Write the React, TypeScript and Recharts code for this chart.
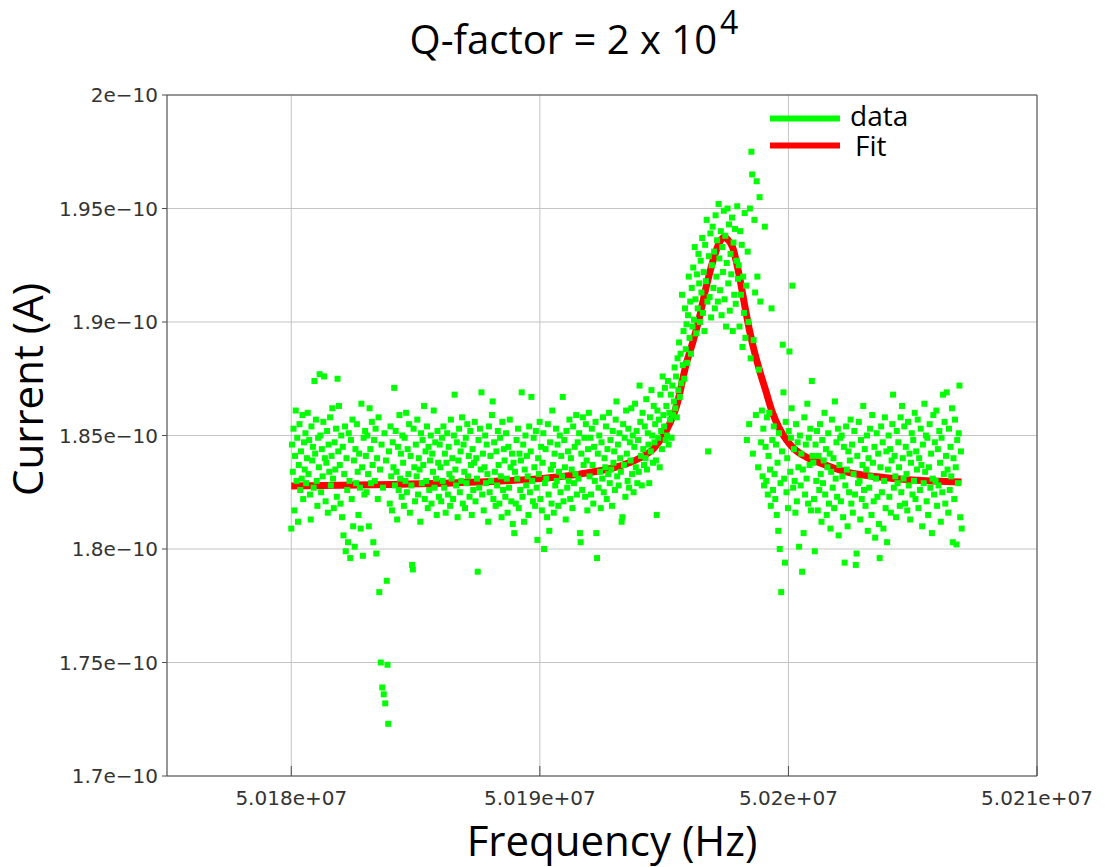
import React from 'react';
import {
  ComposedChart,
  Scatter,
  Line,
  XAxis,
  YAxis,
  CartesianGrid,
  ReferenceLine,
} from 'recharts';

// Frequency sweep: one current reading every SWEEP_STEP_HZ starting at SWEEP_START_HZ
const SWEEP_START_HZ = 50180000;
const SWEEP_STEP_HZ = 30;

// Measured current in pA (1 pA = 1e-12 A), 100 sweep points per block
const sweepBlock1 = [
  180.9, 184.6, 183.4, 185.3, 181.7, 184.1, 186.1, 183.0, 184.9, 181.2,
  183.7, 185.5, 182.6, 184.3, 183.1, 185.9, 182.2, 184.7, 183.5, 185.1,
  182.9, 184.0, 186.0, 183.3, 184.8, 182.4, 181.3, 185.4, 183.9, 184.5,
  182.7, 187.4, 184.2, 185.7, 183.0, 181.9, 184.9, 183.6, 187.7, 185.0,
  182.5, 184.4, 183.2, 185.6, 187.6, 184.0, 182.1, 183.8, 185.2, 181.6,
  184.6, 183.4, 185.8, 182.8, 184.1, 186.2, 183.1, 181.8, 184.7, 183.5,
  185.3, 182.3, 187.5, 184.3, 186.3, 183.7, 182.0, 185.0, 181.4, 184.5,
  180.6, 183.3, 185.4, 179.9, 184.0, 182.6, 180.3, 185.1, 183.0, 179.6,
  184.8, 182.2, 185.7, 181.0, 183.9, 180.1, 184.4, 182.9, 185.5, 183.4,
  181.5, 184.2, 182.7, 180.9, 186.4, 183.6, 179.7, 184.9, 182.4, 185.2,
];
const sweepBlock2 = [
  184.1, 182.5, 185.0, 183.3, 181.0, 186.2, 184.4, 182.9, 185.6, 183.7,
  180.3, 184.8, 183.0, 185.3, 179.8, 184.0, 182.2, 185.8, 178.1, 183.5,
  175.0, 184.6, 173.9, 182.7, 173.6, 185.1, 173.2, 183.9, 178.6, 174.9,
  172.3, 184.3, 182.0, 185.4, 183.2, 181.7, 184.7, 183.6, 187.1, 182.8,
  185.2, 183.4, 181.3, 184.5, 182.6, 185.9, 183.1, 184.2, 182.3, 185.0,
  183.8, 181.9, 184.9, 183.0, 186.0, 182.5, 184.4, 183.3, 185.5, 181.6,
  184.1, 182.8, 179.3, 179.1, 185.3, 183.6, 182.1, 184.6, 183.2, 185.7,
  182.4, 184.0, 183.5, 181.2, 185.1, 182.9, 184.8, 183.7, 186.3, 182.2,
  184.3, 183.0, 185.4, 181.8, 184.5, 182.6, 183.9, 185.0, 182.0, 184.2,
  183.4, 186.1, 182.7, 184.7, 183.1, 181.5, 185.2, 183.8, 182.3, 184.6,
];
const sweepBlock3 = [
  183.6, 182.1, 184.9, 183.0, 185.4, 182.7, 184.2, 181.6, 183.8, 185.1,
  182.4, 184.5, 183.3, 181.9, 185.7, 183.1, 184.0, 182.2, 185.0, 186.8,
  183.5, 182.8, 184.7, 181.4, 183.9, 185.3, 182.5, 184.3, 183.0, 185.8,
  182.0, 184.6, 183.4, 181.8, 184.9, 182.9, 185.5, 183.2, 184.1, 182.3,
  185.2, 183.7, 181.5, 184.4, 182.6, 183.8, 185.6, 182.1, 184.0, 183.1,
  179.0, 184.8, 182.7, 185.3, 183.5, 186.9, 182.4, 184.2, 181.7, 183.6,
  185.0, 182.9, 184.6, 183.3, 181.2, 185.4, 182.5, 184.1, 183.0, 185.9,
  186.5, 182.2, 184.7, 183.4, 181.9, 184.3, 182.8, 185.2, 183.7, 182.0,
  184.9, 183.2, 181.4, 185.6, 182.6, 184.4, 183.9, 182.3, 185.1, 183.1,
  181.6, 184.5, 182.7, 185.7, 183.6, 182.1, 184.2, 181.1, 183.8, 180.7,
];
const sweepBlock4 = [
  183.4, 182.0, 184.8, 183.1, 185.3, 181.8, 184.2, 182.6, 183.9, 186.9,
  182.3, 184.6, 181.2, 183.5, 185.0, 182.8, 184.1, 183.2, 181.5, 185.4,
  182.5, 184.3, 186.7, 183.0, 182.1, 184.9, 183.6, 181.9, 185.2, 182.7,
  180.4, 184.0, 183.3, 185.6, 182.2, 184.5, 181.7, 183.8, 185.1, 180.0,
  182.9, 184.4, 183.1, 181.4, 185.5, 182.4, 180.8, 184.7, 183.5, 182.0,
  186.1, 183.7, 181.6, 184.2, 182.8, 185.3, 183.0, 184.6, 181.9, 183.4,
  185.0, 182.5, 184.1, 183.2, 186.7, 182.1, 184.8, 183.6, 181.3, 185.2,
  182.7, 184.3, 183.0, 185.7, 182.2, 184.0, 183.5, 181.8, 185.4, 182.9,
  184.5, 183.3, 185.9, 182.4, 184.7, 183.1, 185.1, 180.7, 180.3, 184.2,
  182.6, 185.8, 183.7, 184.9, 182.3, 185.5, 183.9, 181.7, 184.4, 186.0,
];
const sweepBlock5 = [
  183.2, 184.9, 182.4, 185.3, 183.7, 182.0, 184.5, 183.0, 185.6, 180.7,
  179.6, 184.2, 182.7, 185.0, 183.4, 181.8, 184.7, 183.1, 185.8, 182.5,
  184.0, 183.6, 185.4, 182.2, 184.4, 183.3, 186.0, 182.9, 184.8, 183.5,
  181.9, 185.2, 183.8, 184.3, 182.6, 185.7, 186.5, 183.2, 184.6, 182.8,
  185.1, 184.0, 183.4, 181.2, 181.4, 185.5, 183.7, 184.9, 182.3, 186.1,
  184.2, 183.0, 185.3, 182.7, 184.7, 183.9, 186.2, 183.3, 185.0, 182.5,
  184.5, 186.4, 183.6, 185.2, 182.9, 184.8, 183.4, 187.2, 185.6, 184.1,
  182.8, 186.0, 184.4, 183.7, 185.4, 184.0, 186.6, 183.5, 185.1, 184.6,
  182.9, 185.8, 184.3, 187.0, 185.0, 183.8, 186.3, 184.7, 185.5, 183.9,
  181.5, 186.1, 184.9, 185.7, 183.6, 186.8, 185.2, 184.4, 187.6, 185.9,
];
const sweepBlock6 = [
  185.4, 187.1, 184.8, 186.3, 185.0, 187.4, 184.6, 186.0, 185.7, 186.8,
  184.9, 187.2, 185.9, 186.5, 188.0, 186.2, 187.6, 185.8, 188.4, 187.0,
  189.1, 186.7, 188.6, 187.3, 191.2, 188.1, 189.6, 187.5, 190.6, 188.8,
  189.9, 188.2, 190.3, 192.0, 189.3, 190.9, 188.6, 191.5, 189.8, 192.4,
  190.1, 193.3, 191.0, 189.5, 192.1, 190.6, 193.0, 191.7, 190.0, 192.7,
  191.3, 193.7, 190.4, 192.2, 189.6, 193.4, 191.8, 194.5, 190.9, 184.3,
  192.9, 191.1, 193.9, 190.2, 192.5, 194.2, 191.5, 193.1, 190.6, 194.7,
  192.0, 193.6, 190.9, 195.2, 192.8, 191.4, 194.0, 190.3, 193.3, 192.2,
  194.9, 191.0, 193.8, 189.8, 192.6, 195.0, 191.7, 194.3, 190.5, 193.0,
  192.1, 194.6, 189.6, 193.5, 191.2, 194.1, 190.8, 192.7, 195.1, 191.9,
];
const sweepBlock7 = [
  192.5, 189.8, 194.0, 191.2, 193.4, 188.9, 192.0, 190.4, 194.8, 189.3,
  191.6, 184.8, 193.1, 190.0, 185.5, 195.0, 188.4, 197.5, 196.5, 184.2,
  189.2, 194.5, 191.3, 185.9, 196.2, 192.0, 183.6, 187.9, 195.5, 190.9,
  184.7, 186.1, 183.2, 185.3, 182.8, 194.2, 184.5, 183.0, 185.8, 182.4,
  184.1, 186.0, 183.5, 181.9, 190.6, 184.8, 182.6, 185.4, 183.3, 182.2,
  184.6, 181.5, 183.8, 180.8, 185.1, 180.0, 182.9, 178.1, 184.3, 189.0,
  186.9, 183.1, 179.4, 185.6, 182.5, 184.0, 181.8, 185.2, 188.7, 183.4,
  184.9, 186.2, 191.6, 182.7, 184.4, 183.0, 181.6, 185.5, 182.1, 184.7,
  183.6, 180.1, 185.0, 182.8, 184.2, 179.0, 183.5, 180.7, 185.8, 182.4,
  184.6, 183.1, 186.4, 182.0, 184.9, 183.7, 185.3, 181.7, 187.4, 184.1,
];
const sweepBlock8 = [
  183.8, 182.2, 179.9, 184.6, 183.0, 185.2, 181.7, 184.1, 182.6, 185.5,
  183.3, 181.2, 184.8, 182.9, 183.9, 186.0, 182.4, 184.4, 181.5, 183.6,
  185.1, 182.0, 184.2, 180.9, 183.4, 185.7, 182.7, 184.0, 181.8, 186.5,
  183.1, 184.7, 182.3, 185.3, 180.6, 183.7, 184.9, 182.1, 185.0, 183.2,
  181.4, 184.5, 179.4, 182.8, 185.4, 183.5, 181.0, 184.3, 182.5, 183.9,
  185.7, 182.0, 184.6, 181.6, 183.3, 185.2, 182.4, 179.3, 179.8, 184.1,
  182.9, 185.6, 183.0, 181.3, 184.8, 182.2, 183.7, 186.3, 182.6, 184.4,
  181.9, 183.5, 185.0, 180.8, 184.0, 182.7, 185.3, 183.2, 181.5, 185.9,
  183.8, 182.1, 184.5, 180.5, 183.1, 185.1, 182.3, 184.2, 181.1, 179.6,
  183.6, 185.4, 182.5, 184.7, 180.9, 183.0, 185.8, 181.8, 184.3, 180.3,
];
const sweepBlock9 = [
  183.5, 185.0, 182.3, 184.4, 181.6, 183.9, 185.5, 186.8, 182.7, 184.1,
  183.2, 181.4, 185.2, 182.9, 184.7, 183.6, 181.9, 185.8, 182.5, 186.3,
  184.0, 183.1, 185.4, 182.0, 184.5, 183.3, 181.7, 185.6, 182.8, 184.2,
  181.3, 183.8, 185.1, 182.4, 184.8, 183.0, 186.0, 182.2, 184.3, 183.5,
  185.7, 181.8, 184.0, 182.6, 185.3, 183.7, 181.0, 184.6, 182.9, 186.4,
  183.4, 185.0, 182.1, 184.9, 181.5, 183.6, 185.5, 182.7, 184.2, 180.7,
  183.1, 185.9, 182.4, 184.7, 183.0, 186.1, 181.9, 184.4, 182.8, 185.2,
  183.8, 181.2, 184.9, 182.5, 186.8, 183.3, 185.6, 182.0, 184.1, 186.9,
  183.5, 181.6, 185.3, 182.6, 184.5, 183.2, 186.2, 180.3, 184.0, 182.2,
  185.7, 183.6, 180.2, 184.8, 182.9, 185.1, 187.2, 181.4, 184.3, 180.9,
];

// Lorentzian fit, sampled (frequency in Hz, current in pA)
const FIT_FREQ_HZ = [
  50180000, 50184000, 50187500, 50190000, 50191600, 50193200, 50194000,
  50194600, 50195100, 50195500, 50195900, 50196150, 50196420, 50196660,
  50196940, 50197220, 50197420, 50197540, 50197750, 50198030, 50198230,
  50198430, 50198630, 50198830, 50199080, 50199360, 50199640, 50199920,
  50200240, 50200720, 50201250, 50202330, 50203660, 50204990, 50206960,
];
const FIT_CURRENT_PA = [
  182.78, 182.84, 182.95, 183.1, 183.3, 183.65, 184.0,
  184.45, 185.25, 186.3, 188.2, 189.1, 190.2, 191.4,
  192.6, 193.5, 193.75, 193.65, 193.3, 192.0, 190.8,
  189.65, 188.7, 187.9, 187.0, 186.0, 185.3, 184.8,
  184.4, 184.05, 183.8, 183.4, 183.17, 183.04, 182.95,
];

const X_TICKS = [50180000, 50190000, 50200000, 50210000];
const Y_TICKS = [170, 175, 180, 185, 190, 195, 200];

const sweepCurrents = [
  ...sweepBlock1, ...sweepBlock2, ...sweepBlock3, ...sweepBlock4, ...sweepBlock5,
  ...sweepBlock6, ...sweepBlock7, ...sweepBlock8, ...sweepBlock9,
];
const measured = sweepCurrents.map((pA, i) => ({ f: SWEEP_START_HZ + i * SWEEP_STEP_HZ, pA }));
const fit = FIT_FREQ_HZ.map((f, i) => ({ f, pA: FIT_CURRENT_PA[i] }));

const formatFreq = (v: number) => `${parseFloat((v / 1e7).toFixed(4))}e+07`;
const formatCurrent = (v: number) => `${parseFloat((v / 100).toFixed(3))}e\u221210`;

const SquareMarker = (props: any) => {
  const { cx, cy } = props;
  if (cx == null || cy == null) return null;
  return <rect x={cx - 3} y={cy - 3} width={6} height={6} fill="#00ff00" />;
};

const FRAME = '#4d4d4d';
const TICK_FONT = { fontFamily: 'DejaVu Sans', fontSize: 20, fill: '#333333' };
const LABEL_FONT = "'Open Sans', sans-serif";

export default function App() {
  return (
    <div style={{ position: 'relative', width: 1105, height: 867 }}>
      <style>{'body{margin:0;}'}</style>
      <ComposedChart
        width={1105}
        height={867}
        margin={{ top: 95, right: 68, bottom: 31, left: 67 }}
      >
        <CartesianGrid stroke="#c4c4c4" strokeWidth={1} />
        <XAxis
          dataKey="f"
          type="number"
          domain={[50175000, 50210000]}
          ticks={X_TICKS}
          interval={0}
          allowDataOverflow
          height={60}
          tickFormatter={formatFreq}
          tickSize={-10}
          tickMargin={25}
          tick={TICK_FONT}
          axisLine={{ stroke: FRAME }}
          tickLine={{ stroke: FRAME }}
        />
        <YAxis
          dataKey="pA"
          type="number"
          domain={[170, 200]}
          ticks={Y_TICKS}
          interval={0}
          allowDataOverflow
          width={100}
          tickFormatter={formatCurrent}
          tickSize={5}
          tickMargin={4}
          tick={TICK_FONT}
          axisLine={{ stroke: FRAME }}
          tickLine={{ stroke: FRAME }}
        />
        <ReferenceLine y={200} stroke={FRAME} />
        <ReferenceLine x={50210000} stroke={FRAME} />
        <Scatter
          name="data"
          data={measured}
          dataKey="pA"
          shape={<SquareMarker />}
          isAnimationActive={false}
        />
        <Line
          name="Fit"
          data={fit}
          dataKey="pA"
          type="monotone"
          stroke="#ff0000"
          strokeWidth={7}
          dot={false}
          activeDot={false}
          isAnimationActive={false}
        />
      </ComposedChart>
      <svg
        width={1105}
        height={867}
        style={{ position: 'absolute', left: 0, top: 0, pointerEvents: 'none' }}
      >
        <text x={574} y={54} textAnchor="middle" fontFamily={LABEL_FONT} fontSize={40} fill="#000">
          Q-factor = 2 x 10
          <tspan dx={3} dy={-20} fontSize={32}>4</tspan>
        </text>
        <text x={612} y={856} textAnchor="middle" fontFamily={LABEL_FONT} fontSize={42} fill="#000">
          Frequency (Hz)
        </text>
        <text
          transform="translate(43, 496) rotate(-90)"
          textAnchor="start"
          fontFamily={LABEL_FONT}
          fontSize={42}
          fill="#000"
        >
          Current (A)
        </text>
        <line x1={770} x2={840} y1={118.5} y2={118.5} stroke="#00ff00" strokeWidth={6} />
        <text x={850} y={125.5} fontFamily={LABEL_FONT} fontSize={28} fill="#000">data</text>
        <line x1={770} x2={840} y1={145.5} y2={145.5} stroke="#ff0000" strokeWidth={6} />
        <text x={855} y={156} fontFamily={LABEL_FONT} fontSize={28} fill="#000">Fit</text>
      </svg>
    </div>
  );
}
